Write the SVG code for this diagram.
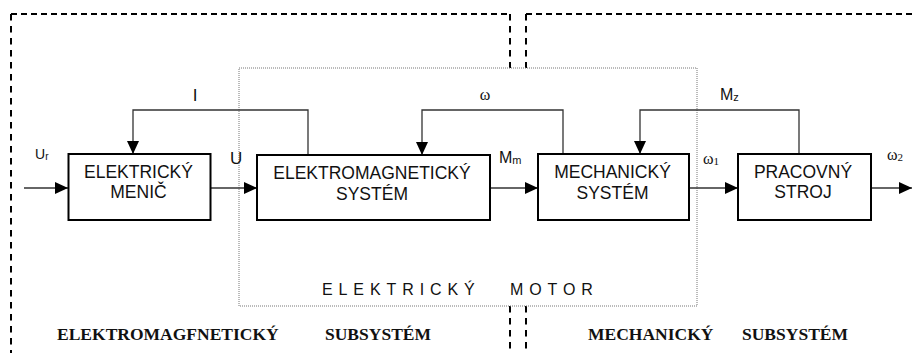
<svg xmlns="http://www.w3.org/2000/svg" width="912" height="353" viewBox="0 0 912 353">
<style>
.box{fill:#fff;stroke:#000;stroke-width:2}
.bt{font-family:"Liberation Sans",Arial,sans-serif;font-size:17.5px;text-anchor:middle;fill:#111}
.lbl{font-family:"Liberation Sans",Arial,sans-serif;fill:#111}
.gr{font-family:"Liberation Serif","Times New Roman",serif;fill:#111}
.sub{font-family:"Liberation Serif","Times New Roman",serif;font-size:17.5px;font-weight:bold;fill:#111}
.mot{font-family:"Liberation Sans",Arial,sans-serif;font-size:16px;letter-spacing:5.9px;fill:#111}
.con{fill:none;stroke:#333;stroke-width:1.3}
.dh{fill:none;stroke:#000;stroke-width:2;stroke-dasharray:6,4}
.dv{fill:none;stroke:#000;stroke-width:2;stroke-dasharray:6.5,5.5}
.dot{fill:none;stroke:#777;stroke-width:1;stroke-dasharray:1,1}
</style>
<defs>
<marker id="ah" markerUnits="userSpaceOnUse" markerWidth="14" markerHeight="12" refX="13" refY="6" orient="auto">
<path d="M0,0 L13,6 L0,12 z" fill="#000"/>
</marker>
</defs>
<g id="boundaries">
<path class="dh" d="M11,14 H510"/>
<path class="dv" d="M11,14 V353"/>
<path class="dv" d="M510,14 V68"/>
<path class="dv" d="M510,306 V353"/>
<path class="dh" d="M912,14 H526"/>
<path class="dv" d="M526,14 V68"/>
<path class="dv" d="M526,306 V353"/>
<rect id="motor" class="dot" x="239" y="68" width="458" height="238"/>
<text class="mot" x="322" y="295">ELEKTRICKÝ</text>
<text class="mot" x="510" y="295">MOTOR</text>
</g>
<g id="connectors">
<line class="con" x1="24" y1="188" x2="68" y2="188" marker-end="url(#ah)"/>
<line class="con" x1="211" y1="188" x2="257" y2="188" marker-end="url(#ah)"/>
<line class="con" x1="490" y1="188" x2="538" y2="188" marker-end="url(#ah)"/>
<line class="con" x1="689" y1="188" x2="738" y2="188" marker-end="url(#ah)"/>
<line class="con" x1="871" y1="188" x2="912" y2="188" marker-end="url(#ah)"/>
<polyline class="con" points="308,155 308,110 133,110 133,154" marker-end="url(#ah)"/>
<polyline class="con" points="563,154 563,110 422,110 422,155" marker-end="url(#ah)"/>
<polyline class="con" points="799,154 799,110 640,110 640,154" marker-end="url(#ah)"/>
</g>
<g id="labels">
<text class="lbl" x="35" y="159" font-size="14">U<tspan font-size="10" dy="1">r</tspan></text>
<text class="lbl" x="230" y="164" font-size="17">U</text>
<text class="lbl" x="499" y="163" font-size="16">M<tspan font-size="11" dy="1">m</tspan></text>
<text class="gr" x="703" y="164" font-size="16">ω<tspan font-size="11" dy="1">1</tspan></text>
<text class="gr" x="887" y="160" font-size="16">ω<tspan font-size="11" dy="1">2</tspan></text>
<text class="lbl" x="195" y="101" font-size="17" text-anchor="middle">I</text>
<text class="gr" x="485" y="100" font-size="16" text-anchor="middle">ω</text>
<text class="lbl" x="720" y="100" font-size="16">M<tspan font-size="11" dy="1">z</tspan></text>
</g>
<g id="menic">
<rect class="box" x="68.5" y="154" width="142" height="66"/>
<text class="bt" x="138.5" y="178">ELEKTRICKÝ</text>
<text class="bt" x="138.5" y="198">MENIČ</text>
</g>
<g id="ems">
<rect class="box" x="257" y="155" width="233" height="65"/>
<text class="bt" x="372" y="179">ELEKTROMAGNETICKÝ</text>
<text class="bt" x="372" y="200">SYSTÉM</text>
</g>
<g id="ms">
<rect class="box" x="538" y="154" width="151" height="66"/>
<text class="bt" x="612.5" y="178">MECHANICKÝ</text>
<text class="bt" x="612.5" y="199">SYSTÉM</text>
</g>
<g id="ps">
<rect class="box" x="738" y="154" width="133" height="66"/>
<text class="bt" x="803" y="178">PRACOVNÝ</text>
<text class="bt" x="803" y="198">STROJ</text>
</g>
<g id="subsystems">
<text class="sub" x="57" y="340">ELEKTROMAGFNETICKÝ</text>
<text class="sub" x="325" y="340">SUBSYSTÉM</text>
<text class="sub" x="588" y="340">MECHANICKÝ</text>
<text class="sub" x="742" y="340">SUBSYSTÉM</text>
</g>
</svg>
